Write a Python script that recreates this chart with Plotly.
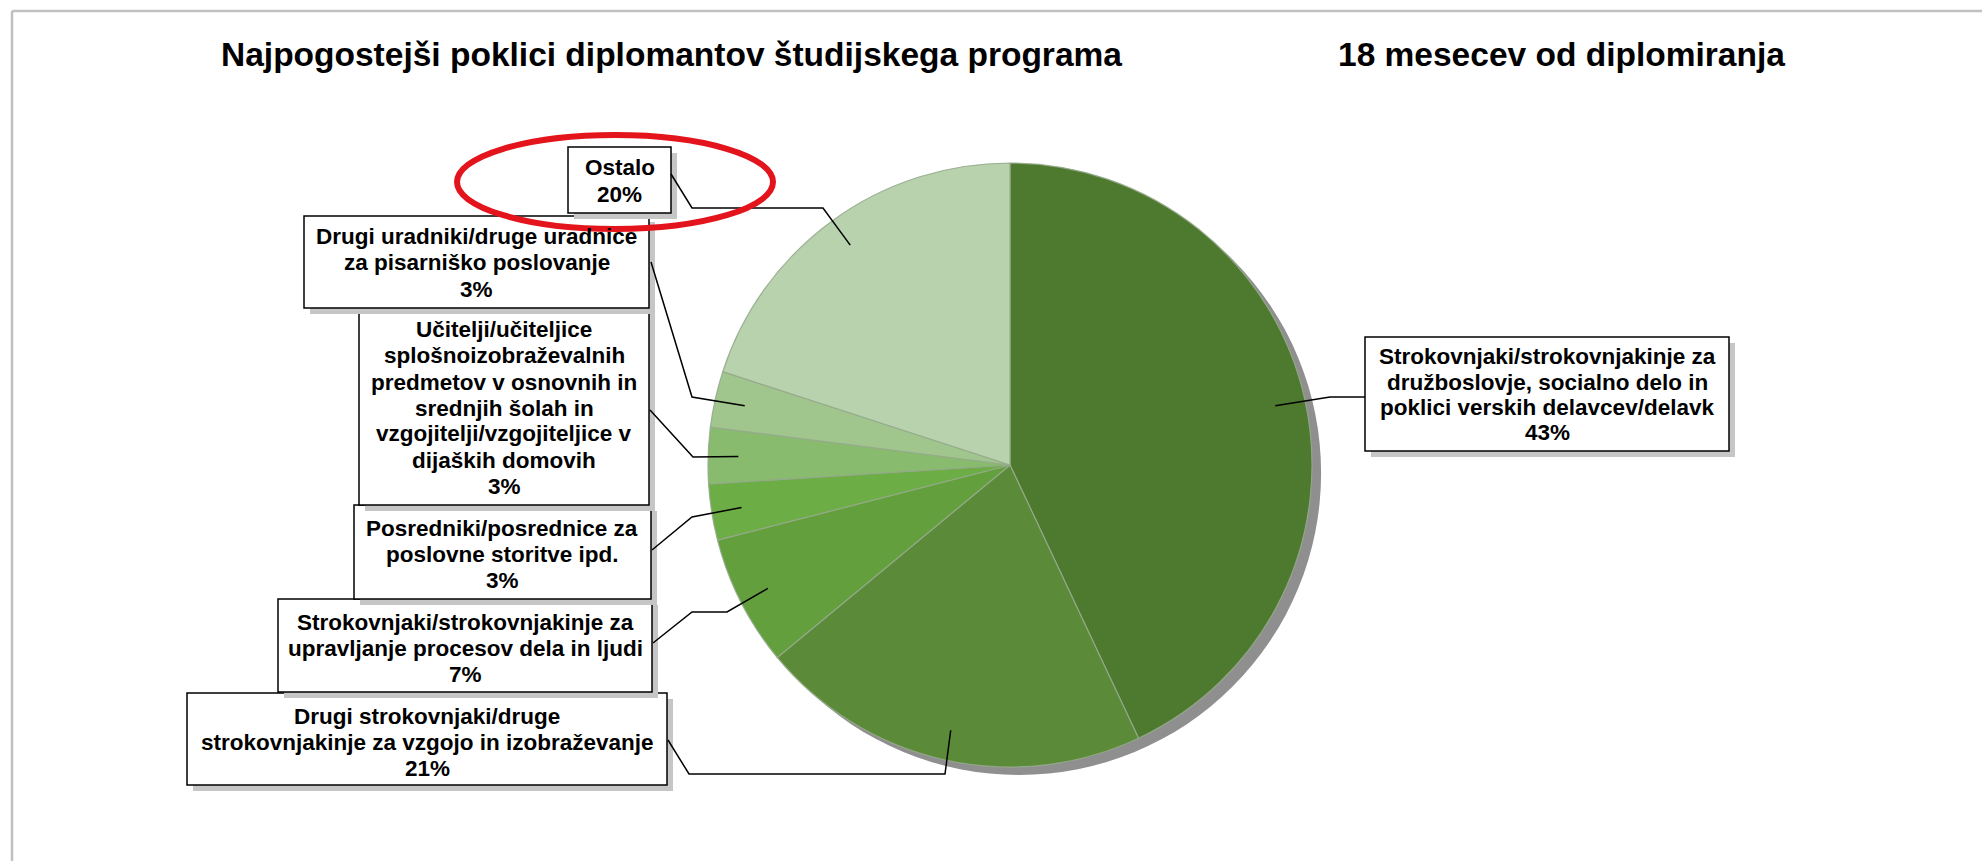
import math
import plotly.graph_objects as go

# ---------------- data ----------------
categories = [
    "Strokovnjaki/strokovnjakinje za|družboslovje, socialno delo in|poklici verskih delavcev/delavk",
    "Drugi strokovnjaki/druge|strokovnjakinje za vzgojo in izobraževanje",
    "Strokovnjaki/strokovnjakinje za|upravljanje procesov dela in ljudi",
    "Posredniki/posrednice za|poslovne storitve ipd.",
    "Učitelji/učiteljice|splošnoizobraževalnih|predmetov v osnovnih in|srednjih šolah in|vzgojitelji/vzgojiteljice v|dijaških domovih",
    "Drugi uradniki/druge uradnice|za pisarniško poslovanje",
    "Ostalo",
]
values = [43, 21, 7, 3, 3, 3, 20]
colors = ["#4e7a30", "#5b8b38", "#63a03d", "#6dad45", "#88bb6d", "#a0c68e", "#b7d2ac"]
title_left = "Najpogostejši poklici diplomantov študijskega programa"
title_right = "18 mesecev od diplomiranja"

# ---------------- layout helpers (pixel geometry) ----------------
W, H = 1982, 861
CX, CY, R = 1010, 465, 302
SDX, SDY = 9, 8
FONT = "Liberation Sans, Arial, sans-serif"


def X(px):
    return px / W


def Y(py):
    return 1 - py / H


# label boxes: (x0, y0, x1, y1), first line centre y, line step
boxes = [
    (1365, 337, 1729, 451, 357, 25),
    (187, 693, 667, 785, 716, 26),
    (278, 599, 652, 692, 622, 26),
    (354, 505, 651, 599, 528, 26),
    (359, 308, 649, 505, 330, 26),
    (304, 216, 649, 308, 237, 26),
    (568, 147, 671, 213, 168, 26),
]
# leader polylines (from box to elbow); final point computed from the slice
leaders = [
    [(1365, 397), (1330, 397)],
    [(668, 740), (689, 774), (945, 774)],
    [(653, 643), (692, 612), (727, 612)],
    [(652, 550), (692, 517)],
    [(650, 410), (693, 457)],
    [(651, 262), (692, 397)],
    [(671, 174), (692, 208), (823, 208)],
]

fig = go.Figure()

# shadow pie
fig.add_trace(go.Pie(
    values=[sum(values)], sort=False, textinfo="none", hoverinfo="skip",
    marker=dict(colors=["#8f8f8f"], line=dict(width=0)),
    domain=dict(x=[X(CX - R + SDX), X(CX + R + SDX)], y=[Y(CY + R + SDY), Y(CY - R + SDY)]),
    showlegend=False,
))
# main pie
fig.add_trace(go.Pie(
    labels=[c.replace("|", " ") for c in categories], values=values,
    sort=False, direction="clockwise", rotation=0,
    textinfo="none", hoverinfo="skip",
    marker=dict(colors=colors, line=dict(color="rgba(150,170,140,0.9)", width=1.2)),
    domain=dict(x=[X(CX - R), X(CX + R)], y=[Y(CY + R), Y(CY - R)]),
    showlegend=False,
))

shapes = []
annotations = []
total = sum(values)
cum = 0
for i, (cat, v) in enumerate(zip(categories, values)):
    mid = (cum + v / 2) / total * 2 * math.pi
    cum += v
    ex = CX + 0.9 * R * math.sin(mid)
    ey = CY - 0.9 * R * math.cos(mid)
    x0, y0, x1, y1, ly, step = boxes[i]
    # box shadow
    shapes.append(dict(type="rect", xref="paper", yref="paper",
                       x0=X(x0 + 6), x1=X(x1 + 6), y0=Y(y1 + 6), y1=Y(y0 + 6),
                       fillcolor="#c6c6c6", line=dict(width=0), layer="above"))
    shapes.append(dict(type="rect", xref="paper", yref="paper",
                       x0=X(x0), x1=X(x1), y0=Y(y1), y1=Y(y0),
                       fillcolor="white", line=dict(color="black", width=1.5), layer="above"))
    lines = cat.split("|") + [f"{v}%"]
    for k, t in enumerate(lines):
        annotations.append(dict(
            x=X((x0 + x1) / 2), y=Y(ly + k * step), xref="paper", yref="paper",
            text=f"<b>{t}</b>", showarrow=False, xanchor="center", yanchor="middle",
            font=dict(family=FONT, size=22.5, color="black"),
        ))
    pts = leaders[i] + [(ex, ey)]
    path = "M " + " L ".join(f"{X(px)},{Y(py)}" for px, py in pts)
    shapes.append(dict(type="path", xref="paper", yref="paper", path=path,
                       line=dict(color="black", width=1.5), layer="above"))

# red highlight ellipse around "Ostalo"
shapes.append(dict(type="circle", xref="paper", yref="paper",
                   x0=X(457), x1=X(773), y0=Y(229), y1=Y(135),
                   line=dict(color="#e3141c", width=6), layer="above"))
# frame lines (top and left)
shapes.append(dict(type="line", xref="paper", yref="paper", x0=X(12), x1=1, y0=Y(11), y1=Y(11),
                   line=dict(color="#c0c0c0", width=2.5)))
shapes.append(dict(type="line", xref="paper", yref="paper", x0=X(12), x1=X(12), y0=Y(11), y1=0,
                   line=dict(color="#c0c0c0", width=2.5)))

annotations.append(dict(x=X(219), y=Y(54), xref="paper", yref="paper", text=f"<b>{title_left}</b>",
                        showarrow=False, xanchor="left", yanchor="middle",
                        font=dict(family=FONT, size=33.5, color="black")))
annotations.append(dict(x=X(1336), y=Y(54), xref="paper", yref="paper", text=f"<b>{title_right}</b>",
                        showarrow=False, xanchor="left", yanchor="middle",
                        font=dict(family=FONT, size=33.5, color="black")))

fig.update_layout(
    width=W, height=H, margin=dict(l=0, r=0, t=0, b=0),
    paper_bgcolor="white", plot_bgcolor="white",
    shapes=shapes, annotations=annotations, showlegend=False,
)
fig.write_html("out.html", config={"displayModeBar": False},
               post_script="document.body.style.margin='0';document.body.style.overflow='hidden';")
